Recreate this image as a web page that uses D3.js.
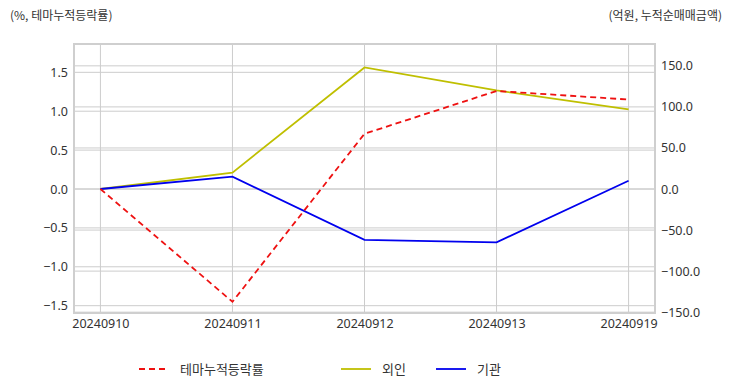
<!DOCTYPE html>
<html><head><meta charset="utf-8">
<script src="https://cdn.jsdelivr.net/npm/d3@7"></script>
<style>body{margin:0;background:#fff}svg{display:block}text{font-family:"Noto Sans CJK KR","Noto Sans",sans-serif}</style>
</head><body><svg id="c" width="732" height="392"></svg>
<script>
const dates = ["20240910","20240911","20240912","20240913","20240919"];
const themeRate = [0, -1.45, 0.71, 1.26, 1.15];
const foreign = [0, 20, 148, 120, 97];
const institution = [0, 15, -62, -65, 10];
const leftTicks = [-1.5,-1.0,-0.5,0.0,0.5,1.0,1.5];
const rightTicks = [-150,-100,-50,0,50,100,150];
const seriesNames = ["테마누적등락률","외인","기관"];

const svg = d3.select("#c");
const L=74, R=655, T=44, B=313;
const x = d3.scalePoint().domain(dates).range([L,R]).padding(0.2);
const yL = d3.scaleLinear().domain([-1.594,1.864]).range([B,T]);
const yR = d3.scaleLinear().domain([-151,176.6]).range([B,T]);
const grid="#cccccc", txt="#333";

// grids
svg.append("g").selectAll("line").data(dates).join("line")
  .attr("x1",d=>x(d)).attr("x2",d=>x(d)).attr("y1",T).attr("y2",B).attr("stroke",grid).attr("stroke-width",1);
svg.append("g").selectAll("line").data(leftTicks).join("line")
  .attr("x1",L).attr("x2",R).attr("y1",d=>yL(d)).attr("y2",d=>yL(d)).attr("stroke",grid).attr("stroke-width",1);
svg.append("g").selectAll("line").data(rightTicks).join("line")
  .attr("x1",L).attr("x2",R).attr("y1",d=>yR(d)).attr("y2",d=>yR(d)).attr("stroke",grid).attr("stroke-width",1);
// frame
svg.append("rect").attr("x",L).attr("y",T).attr("width",R-L).attr("height",B-T)
  .attr("fill","none").attr("stroke","#cfcfcf").attr("stroke-width",2);

// axes
const axL = d3.axisLeft(yL).tickValues(leftTicks).tickFormat(d3.format(".1f")).tickSize(0).tickPadding(6);
const gL = svg.append("g").attr("transform",`translate(${L},0)`).call(axL);
const axR = d3.axisRight(yR).tickValues(rightTicks).tickFormat(d3.format(".1f")).tickSize(0).tickPadding(6);
const gR = svg.append("g").attr("transform",`translate(${R},0)`).call(axR);
const axB = d3.axisBottom(x).tickSize(0).tickPadding(6);
const gB = svg.append("g").attr("transform",`translate(0,${B})`).call(axB);
[gL,gR,gB].forEach(g=>{g.select(".domain").remove();g.selectAll("text").attr("fill",txt).style("font-size","12.5px").style("font-family","'Noto Sans','Noto Sans CJK KR',sans-serif");});

// lines
const lineL = d3.line().x((d,i)=>x(dates[i])).y(d=>yL(d));
const lineR = d3.line().x((d,i)=>x(dates[i])).y(d=>yR(d));
svg.append("path").attr("d",lineR(foreign)).attr("fill","none").attr("stroke","#bfbf00").attr("stroke-width",1.8);
svg.append("path").attr("d",lineR(institution)).attr("fill","none").attr("stroke","#0000ee").attr("stroke-width",1.8);
svg.append("path").attr("d",lineL(themeRate)).attr("fill","none").attr("stroke","#ee1111").attr("stroke-width",1.8).attr("stroke-dasharray","6,4");

// axis titles
svg.append("text").attr("x",10).attr("y",20).attr("fill",txt).style("font-size","12px").text("(%, 테마누적등락률)");
svg.append("text").attr("x",722).attr("y",20).attr("text-anchor","end").attr("fill",txt).style("font-size","12px").text("(억원, 누적순매매금액)");

// legend
const leg = [
  {name:seriesNames[0], color:"#ee1111", dash:"6,4", x1:139},
  {name:seriesNames[1], color:"#bfbf00", dash:null, x1:341},
  {name:seriesNames[2], color:"#0000ee", dash:null, x1:436}
];
const lg = svg.append("g");
leg.forEach(d=>{
  lg.append("line").attr("x1",d.x1).attr("x2",d.x1+30).attr("y1",369).attr("y2",369)
    .attr("stroke",d.color).attr("stroke-width",1.8).attr("stroke-dasharray",d.dash);
  lg.append("text").attr("x",d.x1+41).attr("y",374).attr("fill",txt).style("font-size","13px").text(d.name);
});
</script></body></html>
